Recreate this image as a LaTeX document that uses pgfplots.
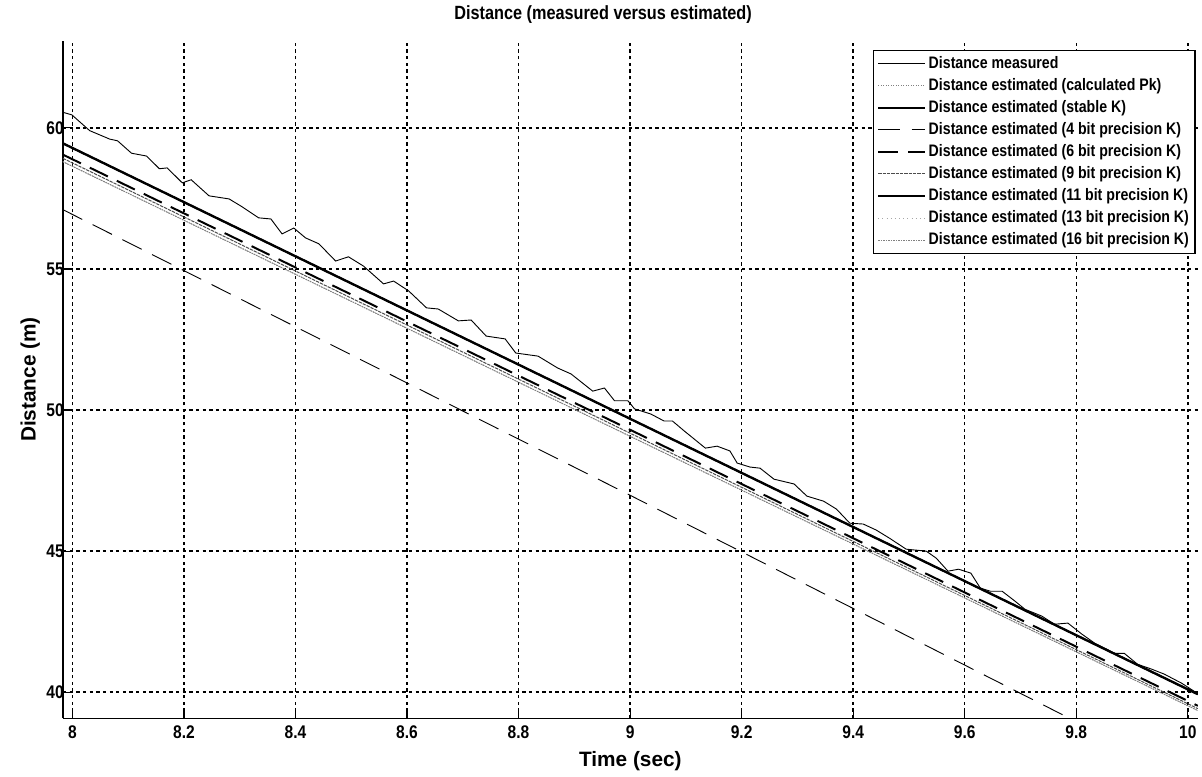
\documentclass[border=0pt]{standalone}
\usepackage{fontspec}
\setmainfont{Liberation Sans}[FakeStretch=0.85]
\newfontfamily\labelfont{Liberation Sans}
\usepackage{pgfplots}
\pgfplotsset{compat=1.18}

\begin{document}
\begin{tikzpicture}
\begin{axis}[
    scale only axis,
    width=682pt, height=407pt,
    xmin=7.983, xmax=10.018,
    ymin=39.08, ymax=63.08,
    axis x line*=bottom, axis y line*=left,
    axis line style={black, line width=0.8pt},
    xtick={8,8.2,8.4,8.6,8.8,9,9.2,9.4,9.6,9.8,10},
    xticklabels={8,8.2,8.4,8.6,8.8,9,9.2,9.4,9.6,9.8,10},
    ytick={40,45,50,55,60},
    tick align=inside,
    major tick length=4pt,
    tick style={black, line width=0.7pt},
    /pgf/number format/assume math mode=true,
    tick label style={font=\bfseries\fontsize{11}{13}\selectfont},
    xticklabel style={yshift=-1pt},
    yticklabel style={xshift=4pt},
    grid=major,
    grid style={black, line width=0.9pt, dash pattern=on 2pt off 2pt},
    title={Distance (measured versus estimated)},
    title style={font=\bfseries\fontsize{11.5}{13}\selectfont, at={(0.476,1)}, yshift=1pt},
    xlabel={Time (sec)},
    ylabel={Distance (m)},
    label style={font=\labelfont\bfseries\fontsize{12.5}{14}\selectfont},
    xlabel style={yshift=-1pt},
    ylabel style={yshift=-3pt},
    legend cell align=left,
    legend style={at={(0.998,0.987)}, anchor=north east,
        font=\bfseries\fontsize{10}{11}\selectfont,
        draw=black, line width=0.8pt, fill=white,
        inner sep=2pt, row sep=1.3pt,
        nodes={inner sep=1.6pt}},
    legend image code/.code={\draw[#1] (0pt,0pt) -- (28pt,0pt);},
]
% measured
\addplot[black, line width=0.55pt] coordinates {
(7.983,60.55) (7.999,60.46) (8.031,59.9) (8.067,59.6) (8.081,59.54) (8.106,59.1)
(8.133,59.0) (8.156,58.55) (8.17,58.58) (8.197,58.05) (8.213,58.16) (8.245,57.59)
(8.281,57.48) (8.302,57.23) (8.334,56.81) (8.356,56.77) (8.376,56.24) (8.397,56.45)
(8.418,56.1) (8.442,55.89) (8.472,55.28) (8.495,55.43) (8.522,55.1) (8.558,54.47)
(8.576,54.57) (8.603,54.22) (8.635,53.62) (8.656,53.58) (8.692,53.16) (8.715,53.19)
(8.742,52.62) (8.776,52.52) (8.795,52.02) (8.835,51.91) (8.87,51.49) (8.894,51.28)
(8.933,50.67) (8.954,50.78) (8.972,50.33) (8.996,50.33) (9.008,50.04) (9.037,49.86)
(9.061,49.61) (9.076,49.61) (9.097,49.26) (9.135,48.65) (9.156,48.72) (9.179,48.55)
(9.192,48.12) (9.215,47.98) (9.233,47.94) (9.258,47.55) (9.294,47.38) (9.317,46.95)
(9.347,46.77) (9.37,46.49) (9.394,45.99) (9.418,45.96) (9.441,45.75) (9.465,45.46)
(9.495,45.07) (9.531,45.0) (9.549,44.75) (9.57,44.29) (9.589,44.36) (9.611,44.22)
(9.628,43.69) (9.646,43.58) (9.667,43.58) (9.69,43.23) (9.708,42.94) (9.738,42.7)
(9.761,42.41) (9.785,42.45) (9.81,42.06) (9.833,41.74) (9.869,41.38) (9.886,41.38)
(9.91,40.99) (9.935,40.82) (9.958,40.64) (9.989,40.32) (10.018,39.95)
};
\addlegendentry{Distance measured}
% calculated Pk
\addplot[gray, line width=0.5pt, densely dotted] coordinates {(7.983,58.8) (9.0,49.07) (10.018,39.35)};
\addlegendentry{Distance estimated (calculated Pk)}
% stable K
\addplot[black, line width=1.4pt] coordinates {(7.983,59.45) (9.0,49.69) (10.018,39.93)};
\addlegendentry{Distance estimated (stable K)}
% 4 bit
\addplot[black, line width=0.55pt, dash pattern=on 13pt off 7pt] coordinates {(7.983,57.1) (9.0,46.98) (10.018,36.77)};
\addlegendentry{Distance estimated (4 bit precision K)}
% 6 bit
\addplot[black, line width=1.2pt, dash pattern=on 12pt off 6pt] coordinates {(7.983,59.05) (9.0,49.3) (10.018,39.52)};
\addlegendentry{Distance estimated (6 bit precision K)}
% 9 bit
\addplot[black!70, line width=0.6pt, dash pattern=on 2pt off 0.6pt] coordinates {(7.983,58.92) (9.0,49.18) (10.018,39.42)};
\addlegendentry{Distance estimated (9 bit precision K)}
% 11 bit
\addplot[black, line width=1.0pt] coordinates {(7.983,59.45) (9.0,49.69) (10.018,39.93)};
\addlegendentry{Distance estimated (11 bit precision K)}
% 13 bit
\addplot[gray!70, line width=0.5pt, dotted] coordinates {(7.983,58.8) (9.0,49.07) (10.018,39.35)};
\addlegendentry{Distance estimated (13 bit precision K)}
% 16 bit
\addplot[gray, line width=0.5pt, dash pattern=on 1pt off 0.5pt] coordinates {(7.983,58.8) (9.0,49.07) (10.018,39.35)};
\addlegendentry{Distance estimated (16 bit precision K)}
\end{axis}
% keep the left margin of the original
\path ([xshift=-37.8pt]current axis.south west);
\end{tikzpicture}
\end{document}
